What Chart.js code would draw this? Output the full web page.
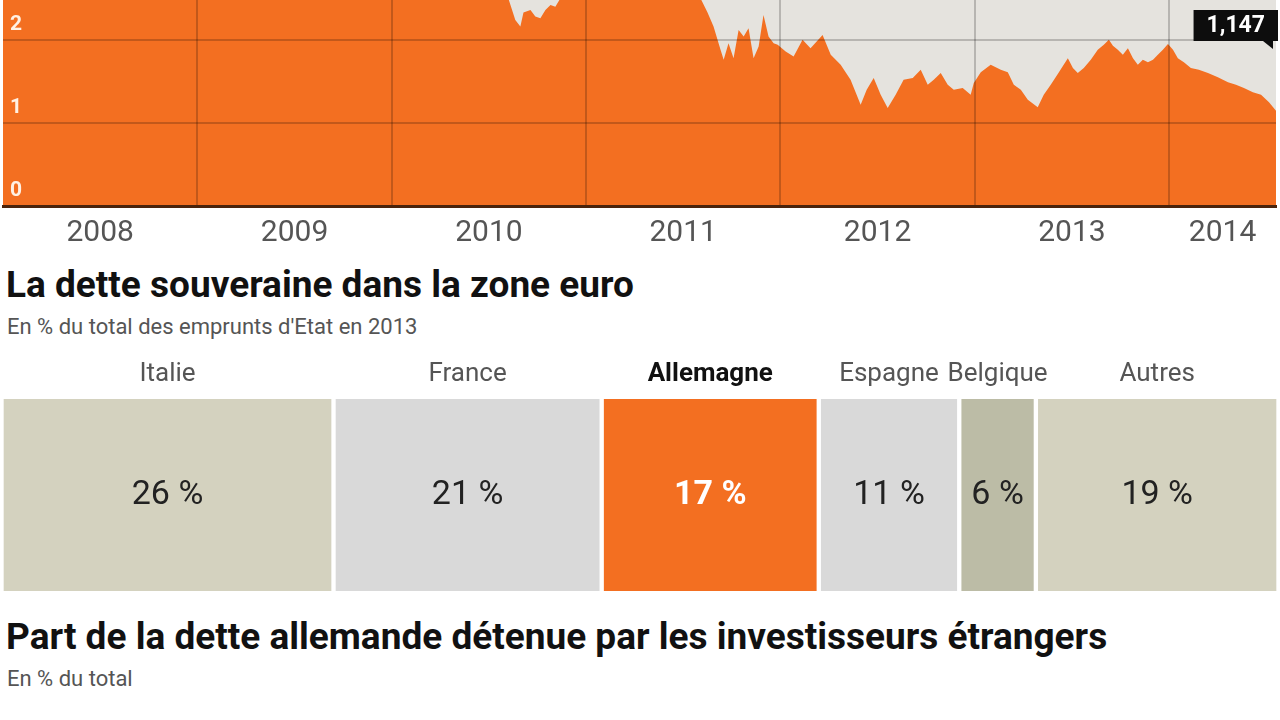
<!DOCTYPE html>
<html lang="fr">
<head>
  <meta charset="UTF-8">
  <title>Taux allemand et dette souveraine</title>
  <script src="https://cdn.jsdelivr.net/npm/chart.js"></script>
  <style>
    body {
      margin: 0;
      background: #fff;
      font-family: Roboto, Arial, sans-serif;
      width: 1280px;
      height: 720px;
      position: relative;
      overflow: hidden;
    }

    canvas {
      position: absolute;
      left: 0;
    }

    #rateChart { top: 0; }
    #shareChart { top: 355px; }

    .title {
      position: absolute;
      left: 6px;
      font-weight: bold;
      font-size: 37px;
      line-height: 40px;
      color: #111;
      white-space: nowrap;
    }

    .sub {
      position: absolute;
      left: 7px;
      font-size: 22px;
      line-height: 26px;
      color: #555;
      white-space: nowrap;
    }
  </style>
</head>
<body>
  <canvas id="rateChart" width="1280" height="260"></canvas>

  <div class="title" style="top:265px">La dette souveraine dans la zone euro</div>
  <div class="sub" style="top:314px">En % du total des emprunts d'Etat en 2013</div>

  <canvas id="shareChart" width="1280" height="240"></canvas>

  <div class="title" style="top:617px">Part de la dette allemande détenue par les investisseurs étrangers</div>
  <div class="sub" style="top:666px">En % du total</div>

  <script>
    // Taux à 10 ans allemand (dates en années décimales)
    const dates = [
      2008.00, 2008.08, 2008.17, 2008.25, 2008.33, 2008.42, 2008.50, 2008.58, 2008.67, 2008.75, 2008.83, 2008.92,
      2009.00, 2009.08, 2009.17, 2009.25, 2009.33, 2009.42, 2009.50, 2009.58, 2009.67, 2009.75, 2009.83, 2009.92,
      2010.00, 2010.08, 2010.17, 2010.25, 2010.33, 2010.42, 2010.50, 2010.56, 2010.600,
      2010.636, 2010.662, 2010.678, 2010.714, 2010.739, 2010.765, 2010.791, 2010.817, 2010.842, 2010.868,
      2010.92, 2010.96, 2011.00, 2011.08, 2011.17, 2011.25, 2011.33, 2011.42, 2011.50, 2011.56, 2011.589,
      2011.625, 2011.656, 2011.692, 2011.708, 2011.733, 2011.759, 2011.785, 2011.811, 2011.836, 2011.862,
      2011.888, 2011.913, 2011.939, 2011.965, 2011.986,
      2012.027, 2012.068, 2012.114, 2012.155, 2012.217, 2012.259, 2012.310, 2012.361, 2012.413, 2012.444,
      2012.480, 2012.516, 2012.552, 2012.593, 2012.634, 2012.681, 2012.722, 2012.758, 2012.789, 2012.825,
      2012.861, 2012.892, 2012.938, 2012.979, 2012.995,
      2013.031, 2013.082, 2013.134, 2013.170, 2013.201, 2013.237, 2013.273, 2013.324, 2013.355, 2013.391,
      2013.433, 2013.479, 2013.505, 2013.530, 2013.561, 2013.597, 2013.633, 2013.664, 2013.690, 2013.711,
      2013.736, 2013.762, 2013.788, 2013.814, 2013.839, 2013.865, 2013.891, 2013.917, 2013.942, 2013.968,
      2013.994,
      2014.020, 2014.045, 2014.076, 2014.112, 2014.153, 2014.200, 2014.251, 2014.303, 2014.344, 2014.385,
      2014.431, 2014.473, 2014.514, 2014.550
    ];
    const yields = [
      4.05, 3.95, 3.80, 3.95, 4.20, 4.50, 4.45, 4.25, 4.10, 3.90, 3.70, 3.20,
      3.00, 3.20, 3.05, 3.20, 3.45, 3.55, 3.40, 3.35, 3.25, 3.25, 3.20, 3.35,
      3.30, 3.15, 3.10, 3.10, 2.95, 2.75, 2.65, 2.60, 2.50,
      2.24, 2.16, 2.33, 2.36, 2.28, 2.26, 2.36, 2.42, 2.40, 2.50,
      2.65, 2.85, 2.95, 3.15, 3.25, 3.40, 3.20, 3.05, 2.85, 2.65, 2.50,
      2.33, 2.16, 1.88, 1.76, 1.96, 1.78, 2.12, 2.04, 2.14, 1.78,
      1.92, 2.30, 2.04, 1.96, 1.94,
      1.86, 1.80, 2.00, 1.90, 2.06, 1.82, 1.70, 1.52, 1.22, 1.40,
      1.54, 1.34, 1.18, 1.34, 1.52, 1.54, 1.64, 1.46, 1.52, 1.60,
      1.46, 1.40, 1.42, 1.34, 1.48,
      1.61, 1.70, 1.64, 1.61, 1.46, 1.40, 1.28, 1.19, 1.34, 1.46,
      1.61, 1.78, 1.66, 1.60, 1.66, 1.76, 1.88, 1.94, 2.00, 1.93,
      1.88, 1.82, 1.90, 1.78, 1.70, 1.76, 1.73, 1.76, 1.82, 1.88,
      1.95,
      1.88, 1.78, 1.73, 1.66, 1.64, 1.60, 1.55, 1.49, 1.46, 1.42,
      1.37, 1.34, 1.25, 1.147
    ];
    const years = ['2008', '2009', '2010', '2011', '2012', '2013', '2014'];
    const yTicks = [0, 1, 2];

    // Dette souveraine zone euro 2013
    const countries = ['Italie', 'France', 'Allemagne', 'Espagne', 'Belgique', 'Autres'];
    const shares = [26, 21, 17, 11, 6, 19];
    const highlight = 'Allemagne';

    const ORANGE = '#f36f21';
    const shareColors = ['#d4d2bf', '#d9d9d9', ORANGE, '#d9d9d9', '#bcbca6', '#d4d2bf'];

    Chart.defaults.font.family = "Roboto, 'Open Sans', sans-serif";
    Chart.defaults.animation = false;

    const xMin = 2008;
    const xMax = dates[dates.length - 1];

    // axes that should not take any room
    function noRoom(axis) {
      if (axis.isHorizontal()) axis.height = 0; else axis.width = 0;
      axis.paddingTop = 0;
      axis.paddingBottom = 0;
      axis.paddingLeft = 0;
      axis.paddingRight = 0;
    }

    // gray background behind the area
    const plotBg = {
      id: 'plotBg',
      beforeDraw(chart) {
        const { ctx, chartArea: a } = chart;
        ctx.save();
        ctx.fillStyle = '#e5e3de';
        ctx.fillRect(a.left, a.top, a.right - a.left, a.bottom - a.top);
        ctx.restore();
      }
    };

    // black label with the last value
    const lastCallout = {
      id: 'lastCallout',
      afterDraw(chart) {
        const meta = chart.getDatasetMeta(0);
        const pt = meta.data[meta.data.length - 1];
        const txt = yields[yields.length - 1].toFixed(3).replace('.', ',');
        const ctx = chart.ctx;
        ctx.save();
        ctx.font = "bold 23px Roboto";
        const w = ctx.measureText(txt).width + 26;
        const right = pt.x + 2, top = 10, h = 31;
        ctx.fillStyle = '#0d0d0d';
        ctx.fillRect(right - w, top, w, h);
        ctx.beginPath();
        ctx.moveTo(right - 15, top + h);
        ctx.lineTo(right - 5, top + h);
        ctx.lineTo(right - 5, top + h + 8);
        ctx.closePath();
        ctx.fill();
        ctx.fillStyle = '#fff';
        ctx.textAlign = 'center';
        ctx.textBaseline = 'middle';
        ctx.fillText(txt, right - w / 2, top + h / 2 + 1);
        ctx.restore();
      }
    };

    new Chart(document.getElementById('rateChart'), {
      type: 'line',
      data: {
        datasets: [{
          data: dates.map((d, i) => ({ x: d, y: yields[i] })),
          fill: 'origin',
          backgroundColor: ORANGE,
          borderWidth: 0,
          pointRadius: 0,
          tension: 0
        }]
      },
      options: {
        responsive: false,
        layout: { padding: { left: 3, right: 4, top: 0, bottom: 0 } },
        plugins: { legend: { display: false }, tooltip: { enabled: false } },
        scales: {
          x: {
            type: 'linear',
            min: xMin,
            max: xMax,
            position: 'bottom',
            afterBuildTicks(axis) {
              axis.ticks = years.map(y => ({ value: Math.min(+y + 0.5, (+y + xMax) / 2) }));
            },
            afterFit(axis) {
              axis.paddingLeft = 0;
              axis.paddingRight = 0;
            },
            ticks: {
              callback: v => String(Math.floor(v)),
              color: '#555',
              font: { size: 30 },
              padding: 9,
              maxRotation: 0,
              autoSkip: false
            },
            grid: { display: false, drawTicks: false },
            border: { display: true, color: '#4a230c', width: 3, z: 2 }
          },
          xg: {
            type: 'linear',
            min: xMin,
            max: xMax,
            position: 'top',
            afterBuildTicks(axis) {
              axis.ticks = years.slice(1).map(y => ({ value: +y }));
            },
            afterFit: noRoom,
            ticks: { display: false },
            grid: { color: 'rgba(0,0,0,0.2)', lineWidth: 2, drawTicks: false, z: 1 },
            border: { display: false }
          },
          y: {
            min: 0,
            max: 2.48,
            afterBuildTicks(axis) {
              axis.ticks = yTicks.map(v => ({ value: v }));
            },
            afterFit: noRoom,
            ticks: {
              mirror: true,
              labelOffset: -15,
              padding: 7,
              color: '#fff1e4',
              font: { size: 21, weight: 'bold' },
              z: 2
            },
            grid: { color: 'rgba(0,0,0,0.2)', lineWidth: 2, drawTicks: false, z: 1 },
            border: { display: false }
          }
        }
      },
      plugins: [plotBg, lastCallout]
    });

    // country names above and values inside each segment
    const shareLabels = {
      id: 'shareLabels',
      afterDatasetsDraw(chart) {
        const ctx = chart.ctx;
        chart.data.datasets.forEach((ds, i) => {
          const bar = chart.getDatasetMeta(i).data[0];
          const cx = (bar.x + bar.base) / 2;
          const strong = ds.label === highlight;
          ctx.save();
          ctx.textAlign = 'center';
          ctx.textBaseline = 'middle';
          ctx.font = (strong ? 'bold ' : '') + '26px Roboto';
          ctx.fillStyle = strong ? '#111' : '#555';
          ctx.fillText(ds.label, cx, chart.chartArea.top - 25);
          ctx.font = (strong ? 'bold ' : '') + '34px Roboto';
          ctx.fillStyle = strong ? '#fff' : '#222';
          ctx.fillText(ds.data[0] + ' %', cx, bar.y);
          ctx.restore();
        });
      }
    };

    new Chart(document.getElementById('shareChart'), {
      type: 'bar',
      data: {
        labels: ['2013'],
        datasets: countries.map((c, i) => ({
          label: c,
          data: [shares[i]],
          backgroundColor: shareColors[i],
          borderColor: '#fff',
          borderWidth: { left: 2.5, right: 2.5, top: 0, bottom: 0 },
          borderSkipped: false,
          barPercentage: 1,
          categoryPercentage: 1
        }))
      },
      options: {
        indexAxis: 'y',
        responsive: false,
        layout: { padding: { left: 1.5, right: 1.5, top: 44, bottom: 4 } },
        plugins: { legend: { display: false }, tooltip: { enabled: false } },
        scales: {
          x: { stacked: true, min: 0, max: 100, display: false },
          y: { stacked: true, display: false }
        }
      },
      plugins: [shareLabels]
    });
  </script>
</body>
</html>
